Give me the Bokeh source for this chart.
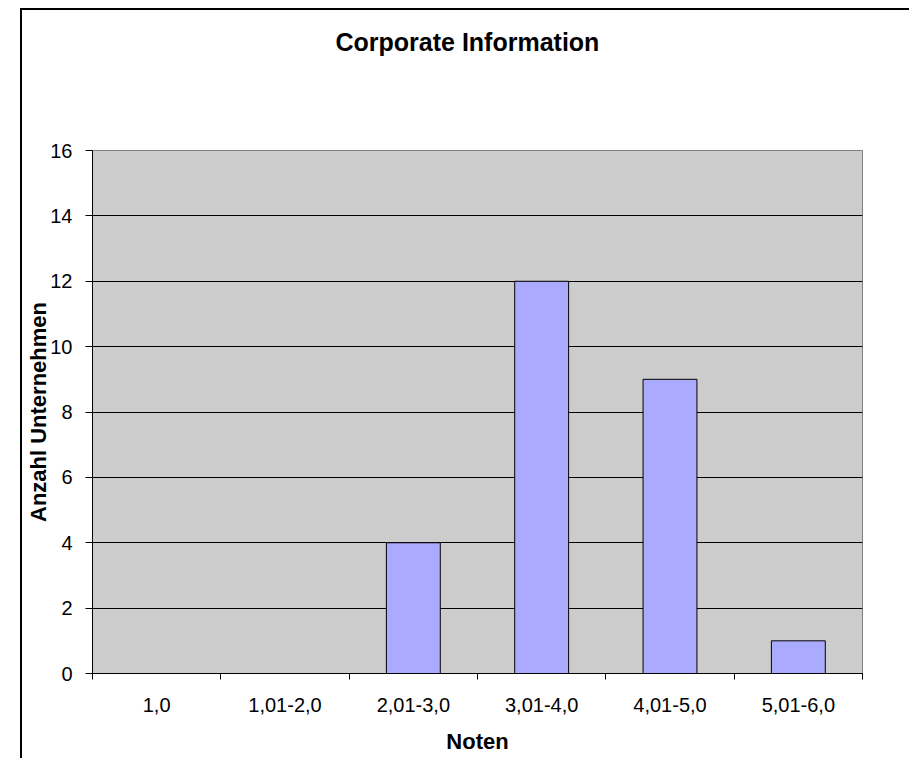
from bokeh.plotting import figure
from bokeh.models import FixedTicker, Range1d, ColumnDataSource, Title
from bokeh.embed import file_html
from bokeh.resources import INLINE

title_text = "Corporate Information"
categories = ["1,0", "1,01-2,0", "2,01-3,0", "3,01-4,0", "4,01-5,0", "5,01-6,0"]
counts = [0, 0, 4, 12, 9, 1]
y_ticks = [0, 2, 4, 6, 8, 10, 12, 14, 16]

centers = [i + 0.5 for i in range(len(categories))]
bounds = list(range(len(categories) + 1))

FONT = "Liberation Sans"

p = figure(width=889, height=750, output_backend="svg", toolbar_location=None,
           x_range=Range1d(0, len(categories)), y_range=Range1d(0, 16),
           min_border_left=70, min_border_right=49, min_border_top=140,
           min_border_bottom=87)
p.styles = {"margin-left": "20px", "margin-top": "8px",
            "border-left": "2px solid black", "border-top": "2px solid black"}

# main title (p.title)
p.title.text = title_text
p.title.text_font = FONT
p.title.text_font_size = "25px"
p.title.text_font_style = "bold"
p.title.text_color = "black"
p.title.align = "left"
p.title.offset = 243
p.title.standoff = 0

# invisible spacer title between main title and frame
p.add_layout(Title(text=" ", text_font_size="1px", standoff=92), "above")

p.background_fill_color = "#CCCCCC"
p.border_fill_color = "white"
p.outline_line_color = "#808080"
p.outline_line_width = 1

src = ColumnDataSource(dict(x=centers, top=counts))
p.vbar(x="x", top="top", bottom=0, width=0.42, source=src,
       fill_color="#AAAAFF", line_color="black", line_width=1)

# grid
p.xgrid.visible = False
p.ygrid.ticker = FixedTicker(ticks=y_ticks)
p.ygrid.grid_line_color = "black"
p.ygrid.grid_line_width = 1

# x axis
xa = p.xaxis[0]
xa.ticker = FixedTicker(ticks=centers, minor_ticks=bounds)
xa.major_label_overrides = {c: lab for c, lab in zip(centers, categories)}
xa.major_tick_line_color = None
xa.major_tick_out = 6
xa.major_tick_in = 0
xa.minor_tick_out = 6
xa.minor_tick_in = 0
xa.minor_tick_line_color = "black"
xa.major_label_standoff = 18
xa.major_label_text_font = FONT
xa.major_label_text_font_size = "20px"
xa.major_label_text_color = "black"
xa.axis_line_color = "black"
xa.axis_label = "Noten"
xa.axis_label_text_font = FONT
xa.axis_label_text_font_size = "22px"
xa.axis_label_text_font_style = "bold"
xa.axis_label_text_color = "black"
xa.axis_label_standoff = 14

# y axis
ya = p.yaxis[0]
ya.ticker = FixedTicker(ticks=y_ticks)
ya.major_tick_out = 7
ya.major_tick_in = 0
ya.major_tick_line_color = "black"
ya.minor_tick_line_color = None
ya.major_label_standoff = 13
ya.major_label_text_font = FONT
ya.major_label_text_font_size = "20px"
ya.major_label_text_color = "black"
ya.axis_line_color = "black"
ya.axis_label = "Anzahl Unternehmen"
ya.axis_label_text_font = FONT
ya.axis_label_text_font_size = "22px"
ya.axis_label_text_font_style = "bold"
ya.axis_label_text_color = "black"
ya.axis_label_standoff = -4

open("out.html", "w").write(file_html(p, INLINE))
